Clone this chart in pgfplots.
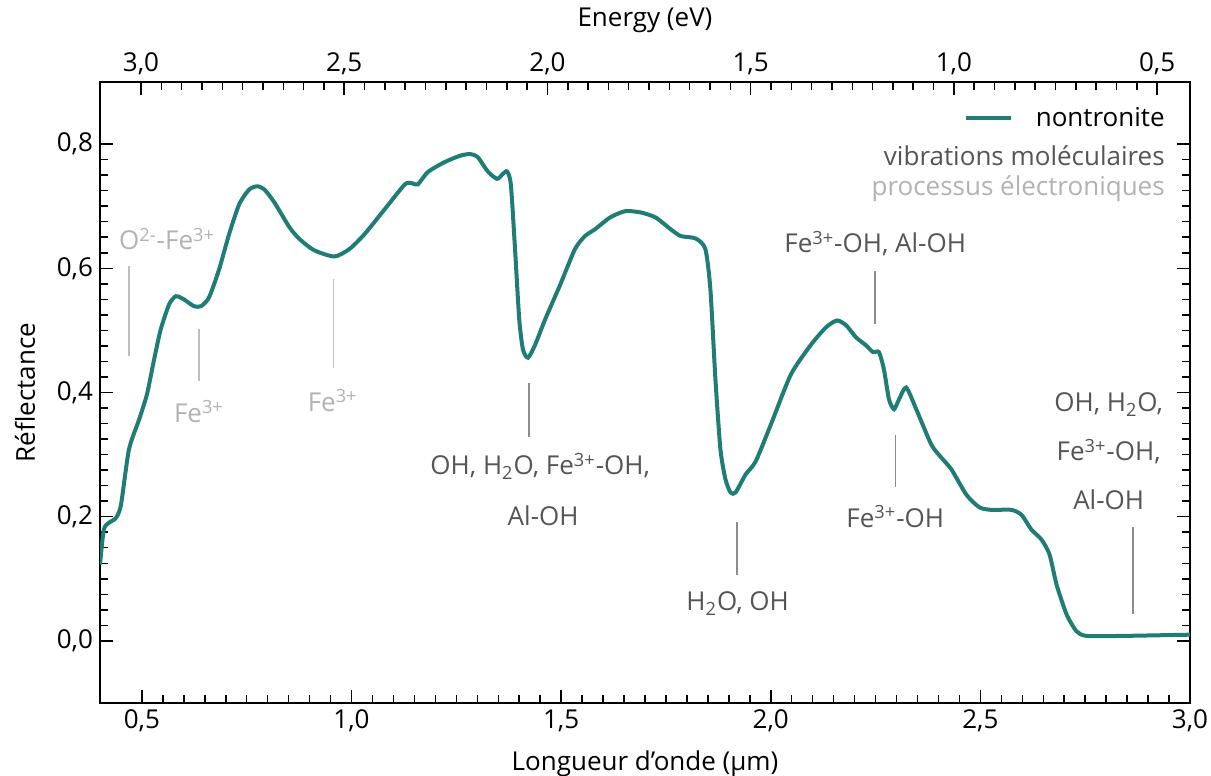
\documentclass[border=0pt]{standalone}
\usepackage{fontspec}
\setmainfont{Open Sans}
\usepackage{pgfplots}
\pgfplotsset{compat=1.18}
\definecolor{teal1}{RGB}{31,125,118}
\definecolor{darkg}{RGB}{85,85,85}
\definecolor{lightg}{RGB}{178,178,178}
\definecolor{lineD}{RGB}{140,140,140}
\definecolor{lineL}{RGB}{190,190,190}
\begin{document}
\begin{tikzpicture}[font=\fontsize{13}{16}\selectfont]
\pgfplotsset{
  myticks/.style={
    tick align=inside,
    major tick length=6.5pt,
    minor tick length=4pt,
    every tick/.style={black, line width=0.75pt},
    axis line style={line width=1pt},
    tick label style={font=\fontsize{13}{16}\selectfont},
    label style={font=\fontsize{13}{16}\selectfont},
    /pgf/number format/.cd, use comma, fixed, fixed zerofill, precision=1, assume math mode=true,
  }
}
\begin{axis}[
  name=ax,
  scale only axis,
  width=545pt, height=310.5pt,
  xmin=0.4, xmax=3.0, ymin=-0.1, ymax=0.9,
  myticks,
  xtick={0.5,1,1.5,2,2.5,3},
  minor x tick num=9,
  ytick={0,0.2,0.4,0.6,0.8},
  minor y tick num=7,
  xtick pos=bottom,
  ytick pos=both,
  yticklabel pos=left,
  xlabel={Longueur d'onde (µm)},
  ylabel={Réflectance},
  xlabel style={yshift=-2.5pt},
  ylabel style={yshift=4pt},
  legend style={draw=none, fill=none, inner sep=0pt, at={(0.979,0.942)}, anchor=east,
    nodes={inner sep=1pt}, font=\fontsize{13}{16}\selectfont},
  legend image code/.code={\draw[#1, line width=2pt] (0pt,0pt) -- (22.5pt,0pt); \path (33pt,0pt);},
]
\addplot[teal1, line width=2pt, smooth, tension=0.4] coordinates {
(0.400,0.123)(0.409,0.179)(0.421,0.190)(0.438,0.198)(0.450,0.219)(0.469,0.308)
(0.493,0.356)(0.512,0.397)(0.529,0.453)(0.545,0.502)(0.565,0.542)(0.581,0.555)
(0.600,0.550)(0.624,0.539)(0.641,0.539)(0.660,0.553)(0.684,0.598)(0.708,0.655)
(0.732,0.703)(0.756,0.727)(0.775,0.732)(0.792,0.727)(0.816,0.706)(0.852,0.666)
(0.876,0.647)(0.911,0.629)(0.959,0.619)(0.995,0.631)(1.031,0.655)(1.079,0.695)
(1.127,0.735)(1.144,0.737)(1.158,0.735)(1.182,0.755)(1.222,0.771)(1.258,0.781)
(1.282,0.784)(1.301,0.779)(1.325,0.756)(1.347,0.744)(1.361,0.752)(1.371,0.756)
(1.380,0.735)(1.390,0.631)(1.400,0.518)(1.409,0.469)(1.421,0.456)(1.438,0.477)
(1.462,0.518)(1.498,0.574)(1.533,0.631)(1.557,0.652)(1.581,0.663)(1.617,0.682)
(1.653,0.692)(1.689,0.690)(1.725,0.682)(1.761,0.663)(1.785,0.652)(1.821,0.648)
(1.844,0.631)(1.856,0.566)(1.868,0.421)(1.880,0.308)(1.892,0.260)(1.904,0.239)
(1.916,0.239)(1.940,0.268)(1.964,0.289)(2.000,0.348)(2.048,0.429)(2.096,0.477)
(2.132,0.505)(2.158,0.516)(2.180,0.508)(2.203,0.489)(2.227,0.476)(2.244,0.465)
(2.258,0.465)(2.270,0.437)(2.282,0.389)(2.294,0.373)(2.306,0.389)(2.323,0.408)
(2.347,0.373)(2.383,0.316)(2.407,0.295)(2.431,0.276)(2.467,0.235)(2.498,0.215)
(2.526,0.211)(2.574,0.211)(2.598,0.203)(2.622,0.179)(2.646,0.163)(2.665,0.139)
(2.682,0.090)(2.706,0.042)(2.730,0.015)(2.754,0.008)(2.837,0.008)(3.000,0.010)
};
\addlegendentry{nontronite}

\node[anchor=east, inner sep=1pt, darkg] at (axis description cs:0.979,0.882) {vibrations moléculaires};
\node[anchor=east, inner sep=1pt, lightg] at (axis description cs:0.979,0.829) {processus électroniques};

% annotation lines
\draw[lineL, line width=0.75pt] (axis cs:0.469,0.603) -- (axis cs:0.469,0.458);
\draw[lineL, line width=0.75pt] (axis cs:0.636,0.502) -- (axis cs:0.636,0.418);
\draw[lineL, line width=0.75pt] (axis cs:0.957,0.582) -- (axis cs:0.957,0.440);
\draw[lineD, line width=0.75pt] (axis cs:1.423,0.416) -- (axis cs:1.423,0.329);
\draw[lineD, line width=0.75pt] (axis cs:1.919,0.192) -- (axis cs:1.919,0.106);
\draw[lineD, line width=0.75pt] (axis cs:2.249,0.595) -- (axis cs:2.249,0.510);
\draw[lineD, line width=0.75pt] (axis cs:2.297,0.332) -- (axis cs:2.297,0.248);
\draw[lineD, line width=0.75pt] (axis cs:2.864,0.184) -- (axis cs:2.864,0.044);
% annotation texts
\node[lightg] at (axis cs:0.560,0.647) {O\textsuperscript{2-}-Fe\textsuperscript{3+}};
\node[lightg] at (axis cs:0.636,0.369) {Fe\textsuperscript{3+}};
\node[lightg] at (axis cs:0.955,0.387) {Fe\textsuperscript{3+}};
\node[darkg] at (axis cs:1.450,0.281) {OH, H\textsubscript{2}O, Fe\textsuperscript{3+}-OH,};
\node[darkg] at (axis cs:1.457,0.202) {Al-OH};
\node[darkg] at (axis cs:1.921,0.060) {H\textsubscript{2}O, OH};
\node[darkg] at (axis cs:2.249,0.640) {Fe\textsuperscript{3+}-OH, Al-OH};
\node[darkg] at (axis cs:2.297,0.200) {Fe\textsuperscript{3+}-OH};
\node[darkg] at (axis cs:2.806,0.381) {OH, H\textsubscript{2}O,};
\node[darkg] at (axis cs:2.806,0.305) {Fe\textsuperscript{3+}-OH,};
\node[darkg] at (axis cs:2.806,0.227) {Al-OH};
\end{axis}
\begin{axis}[
  scale only axis,
  width=545pt, height=310.5pt,
  xmin=0.419, xmax=3.101, ymin=-0.1, ymax=0.9,
  x dir=reverse,
  myticks,
  axis x line*=top,
  hide y axis,
  xtick={0.5,1,1.5,2,2.5,3},
  minor x tick num=9,
  xlabel={Energy (eV)},
  xlabel style={yshift=3pt},
]
\addplot[draw=none] coordinates {(1,0)};
\end{axis}
\pgfresetboundingbox
\path ([shift={(-50pt,-36.5pt)}]ax.south west) rectangle ([shift={(10.5pt,41pt)}]ax.north east);
\end{tikzpicture}
\end{document}
